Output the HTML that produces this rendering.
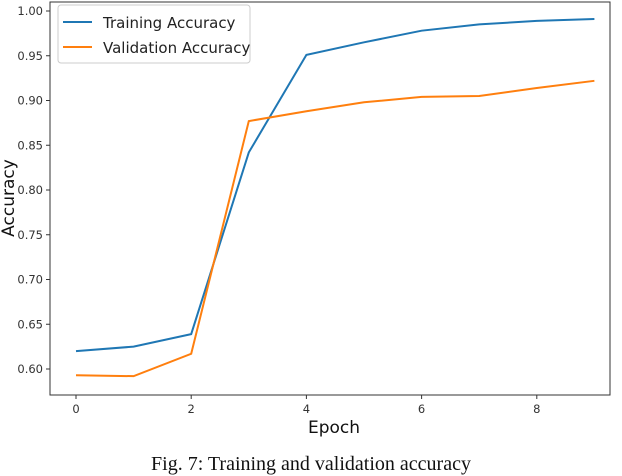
<!DOCTYPE html>
<html><head><meta charset="utf-8"><style>
body{margin:0;background:#fff;width:622px;height:476px;overflow:hidden}
svg{display:block}
</style></head><body>
<svg id="chart" width="622" height="476" xmlns="http://www.w3.org/2000/svg">
<g id="grid"></g>
<rect x="50" y="2" width="560" height="393" fill="none" stroke="#333" stroke-width="1"/>
<g id="ticks" font-family="DejaVu Sans, Liberation Sans, sans-serif" font-size="11.5" fill="#333"></g>
<g id="series"></g>
<g>
<rect x="58" y="5" width="192" height="58" rx="3" fill="#fff" stroke="#ccc"/>
<line x1="63" y1="22" x2="92" y2="22" stroke="#1f77b4" stroke-width="2"/>
<text x="103" y="28" font-family="DejaVu Sans, sans-serif" font-size="15" fill="#222">Training Accuracy</text>
<line x1="63" y1="47" x2="92" y2="47" stroke="#ff7f0e" stroke-width="2"/>
<text x="103" y="53" font-family="DejaVu Sans, sans-serif" font-size="15" fill="#222">Validation Accuracy</text>
</g>
<text x="334" y="433" text-anchor="middle" font-family="DejaVu Sans, sans-serif" font-size="17" fill="#111">Epoch</text>
<text transform="translate(14,198) rotate(-90)" text-anchor="middle" font-family="DejaVu Sans, sans-serif" font-size="17" fill="#111">Accuracy</text>
<text x="311" y="470" text-anchor="middle" font-family="Liberation Serif, serif" font-size="20" fill="#111">Fig. 7: Training and validation accuracy</text>
</svg>
<script>
const epochs=[0,1,2,3,4,5,6,7,8,9];
const trainAcc=[0.620,0.625,0.639,0.842,0.951,0.965,0.978,0.985,0.989,0.991];
const valAcc=[0.593,0.592,0.617,0.877,0.888,0.898,0.904,0.905,0.914,0.922];
const xTicks=[0,2,4,6,8];
const yTicks=[0.60,0.65,0.70,0.75,0.80,0.85,0.90,0.95,1.00];
const NS="http://www.w3.org/2000/svg";
function sx(v){return 76+v*57.6;}
function sy(v){return 369-(v-0.60)*(358/0.40);}
const tg=document.getElementById('ticks');
xTicks.forEach(t=>{
 const l=document.createElementNS(NS,'line');
 l.setAttribute('x1',sx(t));l.setAttribute('x2',sx(t));l.setAttribute('y1',395);l.setAttribute('y2',399);l.setAttribute('stroke','#333');
 
 
 tg.appendChild(l);
 const tx=document.createElementNS(NS,'text');
 tx.setAttribute('x',sx(t));tx.setAttribute('y',413);tx.setAttribute('text-anchor','middle');tx.textContent=t;
 
 
 tg.appendChild(tx);
});
yTicks.forEach(t=>{
 const l=document.createElementNS(NS,'line');
 l.setAttribute('x1',46);l.setAttribute('x2',50);l.setAttribute('y1',sy(t));l.setAttribute('y2',sy(t));l.setAttribute('stroke','#333');
 
 
 tg.appendChild(l);
 const tx=document.createElementNS(NS,'text');
 tx.setAttribute('x',43);tx.setAttribute('y',sy(t)+4);tx.setAttribute('text-anchor','end');tx.textContent=t.toFixed(2);
 
 
 tg.appendChild(tx);
});
const sg=document.getElementById('series');
function line(vals,color,name){
 const p=document.createElementNS(NS,'polyline');
 p.setAttribute('points',vals.map((v,i)=>sx(epochs[i])+','+sy(v)).join(' '));
 p.setAttribute('fill','none');p.setAttribute('stroke',color);p.setAttribute('stroke-width','2');
 
 
 sg.appendChild(p);
}
line(trainAcc,'#1f77b4','training-accuracy-line');
line(valAcc,'#ff7f0e','validation-accuracy-line');
</script>
</body></html>
